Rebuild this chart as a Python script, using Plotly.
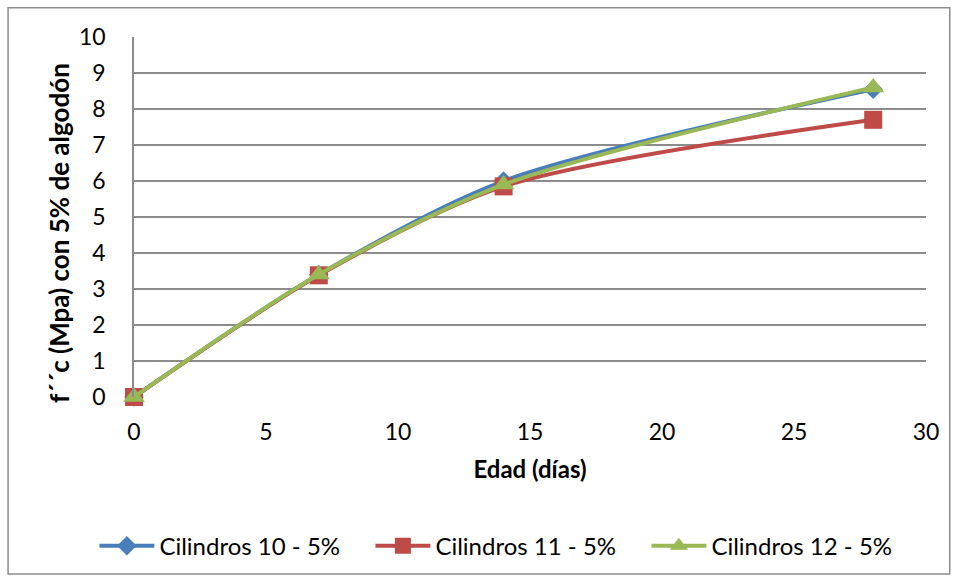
import plotly.graph_objects as go

# Edad de ensayo (días)
edad = [0, 7, 14, 28]

# Resistencia f'c (MPa) de cada grupo de cilindros con 5% de algodón
cil_10 = [0, 3.40, 6.00, 8.55]
cil_11 = [0, 3.38, 5.85, 7.70]
cil_12 = [0, 3.40, 5.90, 8.60]

x_ticks = [0, 5, 10, 15, 20, 25, 30]
y_ticks = list(range(0, 11))

series = [
    ("Cilindros 10 - 5%", cil_10, "#4A7EBB", "diamond", 15),
    ("Cilindros 11 - 5%", cil_11, "#BE4B48", "square", 18),
    ("Cilindros 12 - 5%", cil_12, "#98B954", "triangle-up", 19),
]

FONT = "Lato, 'Open Sans', sans-serif"

fig = go.Figure()
for name, vals, color, symbol, size in series:
    fig.add_trace(go.Scatter(
        x=edad, y=vals, name=name, mode="lines+markers", cliponaxis=False,
        line=dict(color=color, width=4, shape="spline", smoothing=0.8),
        marker=dict(symbol=symbol, size=size, color=color),
    ))

fig.update_layout(
    width=959, height=581,
    margin=dict(l=134, r=33, t=37, b=184, autoexpand=False),
    paper_bgcolor="white", plot_bgcolor="white",
    font=dict(family=FONT, size=23, color="black"),
    showlegend=True,
    legend=dict(orientation="h", x=-0.05, xanchor="left", y=-0.352, yanchor="top",
                font=dict(size=24), itemwidth=55, entrywidth=206,
                entrywidthmode="pixels", tracegroupgap=0,
                bgcolor="rgba(0,0,0,0)"),
    xaxis=dict(range=[0, 30], tickvals=x_ticks, showgrid=False, zeroline=False,
               showline=False, ticks="", tickfont=dict(size=23),
               ticklabelstandoff=19, automargin=False,
               title=dict(text="<b>Edad (días)</b>", font=dict(size=24), standoff=17)),
    yaxis=dict(range=[0, 10], tickvals=y_ticks, showgrid=True, gridcolor="#8C8C8C",
               gridwidth=1.5, zeroline=False, showline=True, linecolor="#8C8C8C",
               linewidth=1.5, ticks="", tickfont=dict(size=23),
               ticklabelstandoff=22, automargin=False),
    annotations=[dict(text="<b>f´´c (Mpa) con 5% de algodón</b>", xref="paper", yref="paper",
                      x=-0.095, y=0.455, xanchor="center", yanchor="middle",
                      textangle=-90, showarrow=False, font=dict(size=26))],
    shapes=[dict(type="rect", xref="paper", yref="paper",
                 x0=-0.159, x1=1.030, y0=-0.492, y1=1.081,
                 line=dict(color="#8C8C8C", width=1.5), fillcolor="rgba(0,0,0,0)",
                 layer="below")],
)

fig.write_html("out.html")
